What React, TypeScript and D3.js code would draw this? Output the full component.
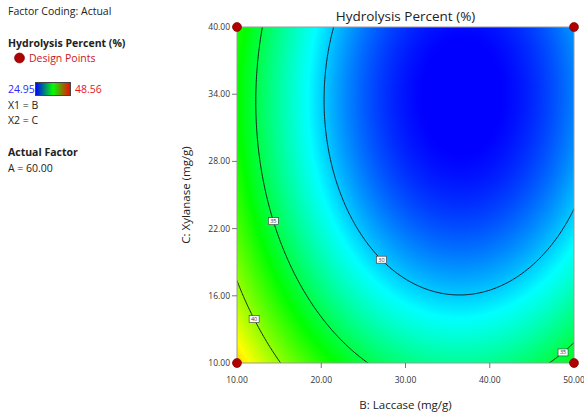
import React, { useEffect, useMemo, useState } from 'react';
import * as d3 from 'd3';

// ---- data ----
const B_RANGE = [10, 50];
const C_RANGE = [10, 40];
const X_TICKS = [10, 20, 30, 40, 50];
const Y_TICKS = [10, 16, 22, 28, 34, 40];
// quadratic model in coded units: intercept, B, C, B², C², BC
const MODEL_COEFS = [27.6, -3.96, -3.35, 6.05, 2.9, -0.145];
const CONTOUR_LEVELS = [30, 35, 40];
const LABEL_LEVELS = [35, 30, 40, 35];
const LABEL_B = [14.7, 27.4, 12.3, 48.4];
const LABEL_C = [22.7, 19.4, 14.0, 11.1];
const DESIGN_B = [10, 50, 10, 50];
const DESIGN_C = [10, 10, 40, 40];
const LEGEND_RANGE = [24.95, 48.56];
const LEGEND_COLORS = ['#0000ff', '#00ff00', '#ff0000'];
const COLOR_VALUES = [26.3, 31.0, 36.5, 42.6, 48.56];
const COLOR_STOPS = ['#0000ff', '#00ffff', '#00ff00', '#ffff00', '#ff0000'];

const W = 584, H = 417;
const PL = 237, PR = 574, PT = 27, PB = 363;
const FONT = '"Open Sans", "Noto Sans", sans-serif';

function predict(B: number, C: number) {
  const u = (B - 30) / 20, v = (C - 25) / 15;
  const [a, b, c, d, e, f] = MODEL_COEFS;
  return a + b * u + c * v + d * u * u + e * v * v + f * u * v;
}

const colorScale = d3
  .scaleLinear<string>()
  .domain(COLOR_VALUES)
  .range(COLOR_STOPS)
  .interpolate(d3.interpolateRgb)
  .clamp(true);

export default function App() {
  const x = d3.scaleLinear().domain(B_RANGE).range([PL, PR]);
  const y = d3.scaleLinear().domain(C_RANGE).range([PB, PT]);
  const [heat, setHeat] = useState<string>('');

  useEffect(() => {
    const w = PR - PL, h = PB - PT;
    const cv = document.createElement('canvas');
    cv.width = w; cv.height = h;
    const ctx = cv.getContext('2d')!;
    const img = ctx.createImageData(w, h);
    for (let py = 0; py < h; py++) {
      for (let px = 0; px < w; px++) {
        const B = x.invert(PL + px + 0.5), C = y.invert(PT + py + 0.5);
        const col = d3.rgb(colorScale(predict(B, C)));
        const k = (py * w + px) * 4;
        img.data[k] = col.r; img.data[k + 1] = col.g; img.data[k + 2] = col.b; img.data[k + 3] = 255;
      }
    }
    ctx.putImageData(img, 0, 0);
    setHeat(cv.toDataURL());
  }, []);

  const contourData = useMemo(() => {
    const n = 241, m = 241;
    const b0 = 8, b1 = 52, c0 = 8.5, c1 = 41.5;
    const sb = (b1 - b0) / (n - 1), sc = (c1 - c0) / (m - 1);
    const vals: number[] = new Array(n * m);
    for (let j = 0; j < m; j++) for (let i = 0; i < n; i++) vals[j * n + i] = predict(b0 + i * sb, c0 + j * sc);
    const cs = d3.contours().size([n, m]).thresholds(CONTOUR_LEVELS)(vals);
    const toPx = (p: number[]) => [x(b0 + (p[0] - 0.5) * sb), y(c0 + (p[1] - 0.5) * sc)];
    return cs.map((c) => {
      const rings: number[][][] = [];
      c.coordinates.forEach((poly) => poly.forEach((ring) => rings.push(ring.map(toPx))));
      return { level: c.value, rings };
    });
  }, []);

  const line = d3.line();
  const labels = LABEL_LEVELS.map((lv, i) => {
    const hx = x(LABEL_B[i]), hy = y(LABEL_C[i]);
    const cd = contourData.find((c) => c.level === lv);
    let best = [hx, hy], bd = Infinity;
    cd?.rings.forEach((r) => r.forEach((p) => {
      if (p[0] < PL || p[0] > PR || p[1] < PT || p[1] > PB) return;
      const dd = (p[0] - hx) ** 2 + (p[1] - hy) ** 2;
      if (dd < bd) { bd = dd; best = p; }
    }));
    return { lv, px: best[0], py: best[1] };
  });

  const gradStops = LEGEND_COLORS.map((c, i) => ({ off: i / (LEGEND_COLORS.length - 1), c }));

  return (
    <svg width={W} height={H} style={{ position: 'absolute', left: 0, top: 0, background: '#fff' }} fontFamily={FONT}>
      <defs>
        <clipPath id="plotclip"><rect x={PL} y={PT} width={PR - PL} height={PB - PT} /></clipPath>
        <linearGradient id="lg" x1="0" x2="1" y1="0" y2="0">
          {gradStops.map((s, i) => <stop key={i} offset={s.off} stopColor={s.c} />)}
        </linearGradient>
      </defs>

      {/* left legend */}
      <g fontSize={10.5} fill="#222">
        <text x={8} y={15}>Factor Coding: Actual</text>
        <text x={8} y={47} fontWeight="bold">Hydrolysis Percent (%)</text>
        <circle cx={19.5} cy={58} r={5} fill="#b00000" stroke="#700" strokeWidth={0.6} />
        <text x={29} y={62} fill="#c8181e">Design Points</text>
        <text x={8} y={93} fill="#2a2aff">{LEGEND_RANGE[0].toFixed(2)}</text>
        <rect x={35.5} y={82.5} width={35} height={13} fill="url(#lg)" stroke="#444" strokeWidth={1} />
        <text x={75} y={93} fill="#e8141e">{LEGEND_RANGE[1].toFixed(2)}</text>
        <text x={8} y={109}>X1 = B</text>
        <text x={8} y={124}>X2 = C</text>
        <text x={8} y={156} fontWeight="bold">Actual Factor</text>
        <text x={8} y={172}>A = 60.00</text>
      </g>

      {/* heatmap */}
      {heat && <image href={heat} x={PL} y={PT} width={PR - PL} height={PB - PT} preserveAspectRatio="none" />}

      {/* contours */}
      <g clipPath="url(#plotclip)" fill="none" stroke="#111" strokeWidth={0.9}>
        {contourData.map((c, i) =>
          c.rings.map((r, k) => <path key={i + '-' + k} d={line(r as [number, number][]) + 'Z'} />)
        )}
      </g>

      {/* contour labels */}
      {labels.map((l, i) => (
        <g key={i}>
          <rect x={l.px - 5} y={l.py - 3.5} width={10} height={7} fill="#fff" stroke="#333" strokeWidth={0.6} />
          <text x={l.px} y={l.py + 2} fontSize={5.5} textAnchor="middle" fill="#333">{l.lv}</text>
        </g>
      ))}

      {/* frame */}
      <rect x={PL} y={PT} width={PR - PL} height={PB - PT} fill="none" stroke="#999" strokeWidth={1} />

      {/* axes */}
      <g fontSize={8.5} fill="#333">
        {Y_TICKS.map((t) => (
          <g key={t}>
            <line x1={PL - 5} x2={PL} y1={y(t)} y2={y(t)} stroke="#777" />
            <text x={PL - 7} y={y(t) + 3} textAnchor="end">{t.toFixed(2)}</text>
          </g>
        ))}
        {X_TICKS.map((t) => (
          <g key={t}>
            <line x1={x(t)} x2={x(t)} y1={PB} y2={PB + 5} stroke="#777" />
            <text x={x(t)} y={PB + 20} textAnchor="middle">{t.toFixed(2)}</text>
          </g>
        ))}
      </g>

      {/* design points */}
      {DESIGN_B.map((b, i) => (
        <circle key={i} cx={x(b)} cy={y(DESIGN_C[i])} r={4.5} fill="#b00000" stroke="#700" strokeWidth={0.6} />
      ))}

      {/* titles */}
      <text x={(PL + PR) / 2} y={21} fontSize={13.5} textAnchor="middle" fill="#222">Hydrolysis Percent (%)</text>
      <text x={(PL + PR) / 2} y={409} fontSize={11.5} textAnchor="middle" fill="#222">B: Laccase (mg/g)</text>
      <text transform={`translate(190, ${(PT + PB) / 2}) rotate(-90)`} fontSize={11.5} textAnchor="middle" fill="#222">C: Xylanase (mg/g)</text>
    </svg>
  );
}
